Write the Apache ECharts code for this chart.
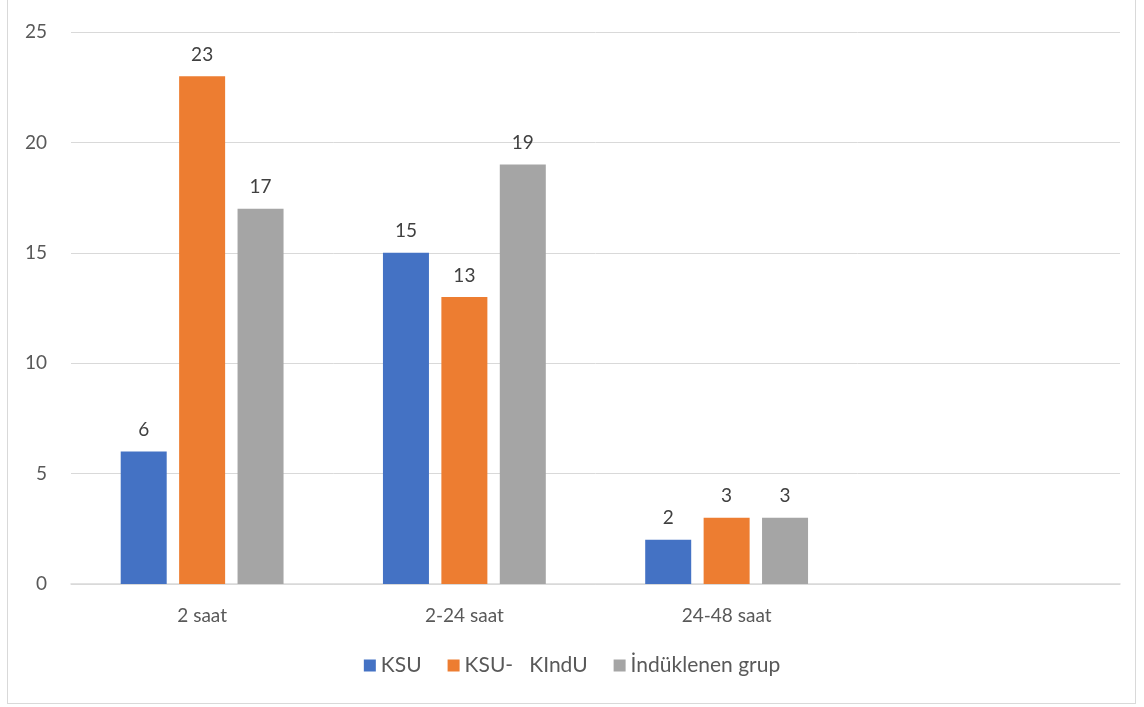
<!DOCTYPE html>
<html>
<head>
<meta charset="utf-8">
<script src="https://cdn.jsdelivr.net/npm/echarts@6/dist/echarts.min.js"></script>
<style>
  html, body { margin: 0; padding: 0; background: #fff; }
  #chart { width: 1144px; height: 707px; }
  #frame { position: absolute; left: 7px; top: -2px; width: 1129px; height: 706px; border: 1px solid #d9d9d9; box-sizing: border-box; pointer-events: none; }
</style>
</head>
<body>
<div id="chart"></div>
<div id="frame"></div>
<script>
const categories = ['2 saat', '2-24 saat', '24-48 saat', '']
const ksu = [6, 15, 2, null]
const ksuKindu = [23, 13, 3, null]
const indiklenen = [17, 19, 3, null]
const seriesNames = ['KSU', 'KSU-   KIndU', 'İndüklenen grup']

const myChart = echarts.init(document.getElementById('chart'))

const font = 'Lato, "Open Sans", sans-serif'
const label = { show: true, position: 'top', distance: 12, color: '#404040', fontSize: 19, fontFamily: font }

let option = {
  animation: false,
  grid: { left: 71, right: 24, top: 32, bottom: 123 },
  legend: {
    data: seriesNames,
    bottom: 26,
    left: 'center',
    itemWidth: 12,
    itemHeight: 12,
    itemGap: 26,
    icon: 'rect',
    textStyle: { color: '#595959', fontSize: 21, fontFamily: font }
  },
  xAxis: {
    type: 'category',
    data: categories,
    axisLine: { lineStyle: { color: '#d9d9d9', width: 1.5 } },
    axisTick: { show: false },
    axisLabel: { color: '#595959', fontSize: 19, fontFamily: font, margin: 22 }
  },
  yAxis: {
    type: 'value',
    min: 0,
    max: 25,
    interval: 5,
    axisLine: { show: false },
    axisTick: { show: false },
    splitLine: { lineStyle: { color: '#d9d9d9' } },
    axisLabel: { color: '#595959', fontSize: 19, fontFamily: font, margin: 24 }
  },
  series: [
    { name: seriesNames[0], type: 'bar', data: ksu, barWidth: 46, barGap: '27%', itemStyle: { color: '#4472c4' }, label: label },
    { name: seriesNames[1], type: 'bar', data: ksuKindu, barWidth: 46, barGap: '27%', itemStyle: { color: '#ed7d31' }, label: label },
    { name: seriesNames[2], type: 'bar', data: indiklenen, barWidth: 46, barGap: '27%', itemStyle: { color: '#a5a5a5' }, label: label }
  ]
}

myChart.setOption(option)
</script>
</body>
</html>
